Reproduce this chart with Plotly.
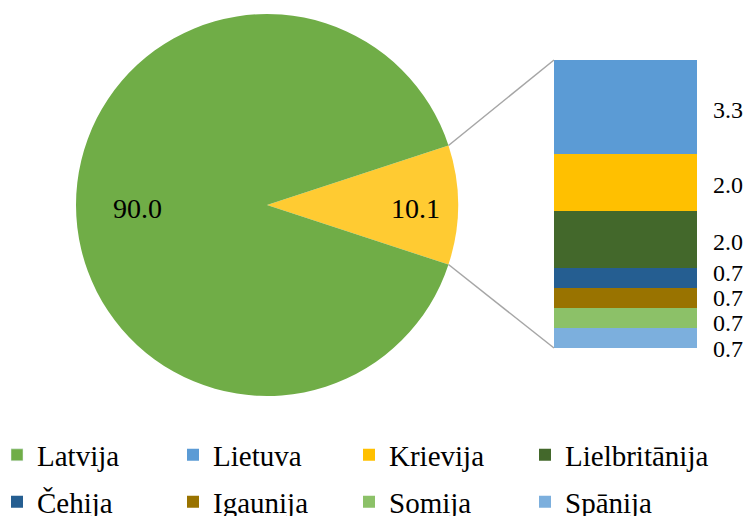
import math
import plotly.graph_objects as go

# ---- data ----
pie_labels = ["Citas", "Latvija"]
pie_values = [10.1, 90.0]
bar_labels = ["Lietuva", "Krievija", "Lielbritānija", "Čehija", "Igaunija", "Somija", "Spānija"]
bar_values = [3.3, 2.0, 2.0, 0.7, 0.7, 0.7, 0.7]
bar_colors = ["#5B9BD5", "#FFC000", "#43682B", "#255E91", "#997300", "#8CC168", "#7CAFDD"]
pie_colors = ["#FFCB32", "#70AD47"]
legend_names = ["Latvija"] + bar_labels

# figure size (page has an 8px body margin)
W, H = 744, 508
FONT = "Liberation Serif, Times New Roman, serif"

pie_dom_x = [68 / W, 450 / W]
pie_dom_y = [1 - 388 / H, 1 - 6 / H]
bar_dom_x = [546 / W, 689 / W]
bar_dom_y = [1 - 340 / H, 1 - 52 / H]

# legend grid (figure pixels): column left positions and row centers
legend_col_x = [-11, 165, 341, 517]
legend_row_y = [447, 494]

total = sum(pie_values)
other = pie_values[0]
half_deg = 180.0 * other / total
rotation = 90 - half_deg

fig = go.Figure()

fig.add_trace(go.Pie(
    labels=pie_labels, values=pie_values, sort=False, direction="clockwise",
    rotation=rotation, marker=dict(colors=pie_colors, line=dict(width=0)),
    textinfo="none", domain=dict(x=pie_dom_x, y=pie_dom_y), showlegend=False,
    hoverinfo="label+value",
))

def legend_id(name):
    k = legend_names.index(name)
    return "legend" if k == 0 else f"legend{k + 1}"

# legend entry for Latvija
fig.add_trace(go.Bar(x=[None], y=[None], name="Latvija", marker_color=pie_colors[1],
                     legend=legend_id("Latvija")))

# stacked bar: bottom first
n = len(bar_labels)
for i in reversed(range(n)):
    fig.add_trace(go.Bar(
        x=[0], y=[bar_values[i]], name=bar_labels[i],
        marker=dict(color=bar_colors[i], line=dict(width=0)),
        width=1, hoverinfo="name+y", legend=legend_id(bar_labels[i]),
    ))

ymax = sum(bar_values)

# bar value label positions: segment centers, clustered to avoid overlap
cum = 0
centers = {}
for i in reversed(range(n)):
    centers[i] = cum + bar_values[i] / 2
    cum += bar_values[i]
gap = 0.88
clusters = [[i] for i in range(n)]
def positions(cl):
    m = sum(centers[i] for i in cl) / len(cl)
    k = len(cl)
    return [m + gap * ((k - 1) / 2 - j) for j in range(k)]
changed = True
while changed:
    changed = False
    for c in range(len(clusters) - 1):
        a, b = positions(clusters[c]), positions(clusters[c + 1])
        if a[-1] - b[0] < gap:
            clusters[c] = clusters[c] + clusters[c + 1]
            del clusters[c + 1]
            changed = True
            break
label_pos = {}
for cl in clusters:
    for i, p in zip(cl, positions(cl)):
        label_pos[i] = p - 0.1

bar_right_paper = bar_dom_x[1]
for i in range(n):
    yp = bar_dom_y[0] + (label_pos[i] / ymax) * (bar_dom_y[1] - bar_dom_y[0])
    fig.add_annotation(x=bar_right_paper, y=yp, xref="paper", yref="paper", text=f"{bar_values[i]:.1f}",
                       showarrow=False, xanchor="left", yanchor="middle", xshift=14,
                       font=dict(family=FONT, size=24, color="black"))

# pie geometry
pw = W * (pie_dom_x[1] - pie_dom_x[0])
ph = H * (pie_dom_y[1] - pie_dom_y[0])
r = min(pw, ph) / 2
cx = W * (pie_dom_x[0] + pie_dom_x[1]) / 2
cy_paper = (pie_dom_y[0] + pie_dom_y[1]) / 2

# pie value labels at slice mid-angles
label_frac = [0.775, 0.68]
start = rotation
for v, f in zip(pie_values, label_frac):
    span = 360.0 * v / total
    mid = math.radians(start + span / 2)
    start += span
    fig.add_annotation(x=(cx + f * r * math.sin(mid)) / W, y=cy_paper + f * r * math.cos(mid) / H,
                       xref="paper", yref="paper", text=f"{v:.1f}", showarrow=False,
                       xanchor="center", yanchor="middle", yshift=-3,
                       font=dict(family=FONT, size=28, color="black"))

# connector lines from the "other" slice edges to the bar corners
for ang, yb in [(rotation, ymax), (rotation + 2 * half_deg, 0)]:
    a = math.radians(ang)
    px = (cx + r * math.sin(a)) / W
    py = cy_paper + r * math.cos(a) / H
    bx = bar_dom_x[0]
    by = bar_dom_y[0] + (yb / ymax) * (bar_dom_y[1] - bar_dom_y[0])
    fig.add_shape(type="line", xref="paper", yref="paper", x0=px, y0=py, x1=bx, y1=by,
                  line=dict(color="#A6A6A6", width=1.5))

legends = {}
for k, name in enumerate(legend_names):
    lid = "legend" if k == 0 else f"legend{k + 1}"
    legends[lid] = dict(orientation="h", xanchor="left", yanchor="middle",
                        x=legend_col_x[k % 4] / W, y=1 - legend_row_y[k // 4] / H,
                        font=dict(family=FONT, size=29, color="black"),
                        bgcolor="rgba(0,0,0,0)")

fig.update_layout(
    width=W, height=H, barmode="stack", bargap=0,
    margin=dict(l=0, r=0, t=0, b=0, autoexpand=False),
    paper_bgcolor="white", plot_bgcolor="white",
    xaxis=dict(domain=bar_dom_x, range=[-0.5, 0.5], visible=False, fixedrange=True),
    yaxis=dict(domain=bar_dom_y, range=[0, ymax], visible=False, fixedrange=True),
    showlegend=True,
    **legends,
)

fig.write_html("out.html")
